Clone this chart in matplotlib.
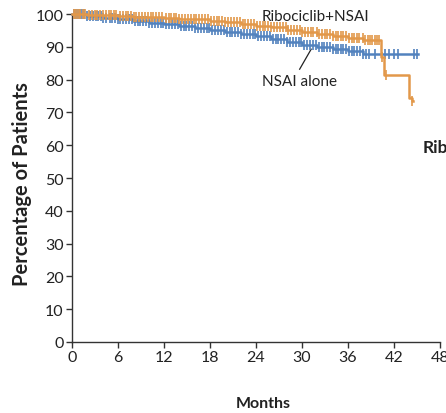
import numpy as np
import matplotlib
matplotlib.use("Agg")
import matplotlib.pyplot as plt

plt.rcParams['font.family'] = ['Lato', 'DejaVu Sans']

# Kaplan-Meier steps (months, % of patients)
ribo_t = [0, 2, 4, 6, 8, 10, 12, 14, 16, 18, 20, 22, 24, 26, 28, 30, 32, 34, 36, 38, 40.3, 40.7, 44.0, 44.3, 44.5]
ribo_s = [100, 99.8, 99.6, 99.4, 99.2, 99.0, 98.8, 98.6, 98.4, 98.0, 97.5, 97.0, 96.5, 96.0, 95.3, 94.6, 93.8, 93.2, 92.6, 92.2, 87.0, 81.5, 74.5, 73.5, 73.5]
nsai_t = [0, 2, 4, 6, 8, 10, 12, 14, 16, 18, 20, 22, 24, 26, 28, 30, 32, 34, 36, 38, 45.1]
nsai_s = [100, 99.4, 98.9, 98.4, 97.9, 97.4, 96.9, 96.4, 95.9, 95.3, 94.6, 94.0, 93.3, 92.5, 91.6, 90.7, 90.0, 89.3, 88.6, 87.8, 87.8]

# censoring times
ribo_cens = [0.2, 0.4, 0.6, 0.9, 1.1, 1.4, 1.7, 2.2, 2.6, 3.0, 3.3, 3.6, 4.0, 4.4, 4.8, 5.1, 5.5, 5.8,
             6.2, 6.6, 7.0, 7.3, 7.7, 8.1, 8.4, 8.8, 9.1, 9.5, 9.9, 10.3, 10.6, 11.0, 11.4, 11.8, 12.2,
             12.6, 12.9, 13.3, 13.6, 14.0, 14.4, 14.8, 15.1, 15.5, 15.9, 16.2, 16.6, 17.0, 17.4, 17.8,
             18.1, 18.5, 18.9, 19.2, 19.6, 20.0, 20.4, 20.8, 21.1, 21.5, 21.9, 22.3, 22.6, 23.0, 23.4,
             23.8, 24.1, 24.5, 24.9, 25.2, 25.6, 26.0, 26.4, 26.8, 27.1, 27.5, 27.9, 28.2, 28.6, 29.0,
             29.3, 29.7, 30.0, 30.4, 30.8, 31.2, 31.5, 31.9, 32.2, 32.6, 33.0, 33.3, 33.7, 34.0, 34.4,
             34.7, 35.1, 35.4, 35.8, 36.1, 36.5, 36.8, 37.2, 37.5, 37.9, 38.2, 38.6, 38.9, 39.2, 39.5,
             39.8, 40.1, 40.5, 41.0, 44.4]
nsai_cens = [0.3, 0.5, 0.8, 1.0, 1.3, 1.6, 2.0, 2.4, 2.7, 3.1, 3.4, 3.8, 4.1, 4.5, 4.9, 5.2, 5.6, 6.0,
             6.3, 6.7, 7.1, 7.4, 7.8, 8.2, 8.6, 8.9, 9.3, 9.7, 10.1, 10.4, 10.8, 11.2, 11.6, 11.9, 12.3,
             12.7, 13.1, 13.4, 13.8, 14.2, 14.6, 14.9, 15.3, 15.7, 16.1, 16.4, 16.8, 17.2, 17.6, 17.9,
             18.3, 18.7, 19.1, 19.4, 19.8, 20.2, 20.6, 20.9, 21.3, 21.7, 22.1, 22.4, 22.8, 23.2, 23.6,
             23.9, 24.3, 24.7, 25.1, 25.4, 25.8, 26.2, 26.6, 26.9, 27.3, 27.7, 28.1, 28.4, 28.8, 29.2,
             29.6, 29.9, 30.3, 30.7, 31.1, 31.4, 31.8, 32.2, 32.6, 32.9, 33.3, 33.7, 34.0, 34.4, 34.7,
             35.1, 35.4, 35.8, 36.1, 36.5, 36.8, 37.2, 37.6, 38.0, 38.3, 38.7, 39.5, 40.8, 41.4, 42.0,
             42.5, 44.6, 45.0]

orange = '#E2984A'
blue = '#5282BE'


def surv_at(t, s, x):
    idx = np.searchsorted(t, x, side='right') - 1
    return np.array(s)[idx]


fig = plt.figure(figsize=(4.46, 4.14), dpi=100)
ax = fig.add_axes([0.1614, 0.1715, 0.825, 0.792])

ax.step(nsai_t, nsai_s, where='post', color=blue, lw=1.8, clip_on=False, zorder=3)
ax.plot(nsai_cens, surv_at(nsai_t, nsai_s, nsai_cens), ls='none', marker='|', ms=7, mew=1.2,
        color=blue, clip_on=False, zorder=3)
ax.step(ribo_t, ribo_s, where='post', color=orange, lw=1.8, clip_on=False, zorder=4)
ax.plot(ribo_cens, surv_at(ribo_t, ribo_s, ribo_cens), ls='none', marker='|', ms=7, mew=1.2,
        color=orange, clip_on=False, zorder=4)

ax.set_xlim(0, 48)
ax.set_ylim(0, 100)
ax.set_xticks(np.arange(0, 49, 6))
ax.set_yticks(np.arange(0, 101, 10))
ax.spines['top'].set_visible(False)
ax.spines['right'].set_visible(False)
for sp in ('left', 'bottom'):
    ax.spines[sp].set_color('#333333')
    ax.spines[sp].set_linewidth(1.0)
ax.tick_params(direction='out', length=4, width=1, color='#333333', labelsize=11.5, labelcolor='#222222', pad=2)

ax.set_xlabel('Months', fontsize=11.5, fontweight='bold', color='#222222', va='baseline')
ax.set_ylabel('Percentage of Patients', fontsize=14.5, fontweight='bold', color='#222222', va='baseline')
ax.xaxis.set_label_coords(0.520, -0.198)
ax.yaxis.set_label_coords(-0.120, 0.485)

ax.text(24.8, 99.4, 'Ribociclib+NSAI', fontsize=11, color='#222222', ha='left', va='center')
ax.text(24.8, 79.6, 'NSAI alone', fontsize=11, color='#222222', ha='left', va='center')
ax.plot([29.7, 31.2], [83.2, 89.3], color='#222222', lw=0.9)

fig.text(423 / 446, 1 - 148 / 414, 'Ribociclib', fontsize=12.5, fontweight='bold', color='#222222',
         ha='left', va='center')

fig.savefig('out.png', dpi=100)
